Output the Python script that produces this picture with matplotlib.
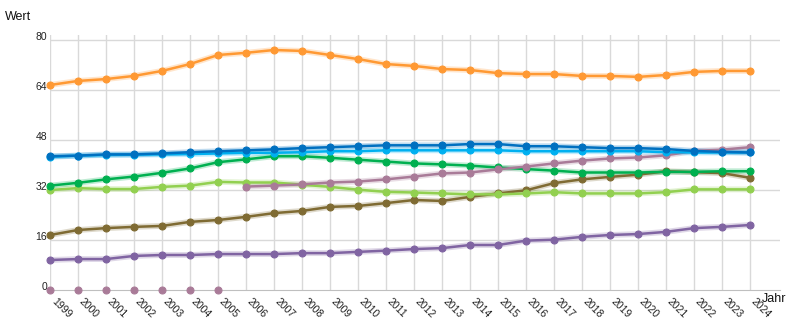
import matplotlib
matplotlib.use('Agg')
import matplotlib.pyplot as plt
from matplotlib.transforms import ScaledTranslation

plt.rcParams['font.family'] = ['Liberation Sans', 'DejaVu Sans']

years = list(range(1999, 2025))
orange = [65.6, 66.9, 67.5, 68.5, 70.1, 72.3, 75.2, 75.9, 76.8, 76.5, 75.2, 73.9, 72.3,
          71.7, 70.7, 70.4, 69.4, 69.1, 69.1, 68.5, 68.5, 68.2, 68.8, 69.8, 70.1, 70.1]
dark_blue = [42.8, 43.0, 43.4, 43.4, 43.7, 44.1, 44.4, 44.7, 45.0, 45.4, 45.7, 46.0, 46.3,
             46.3, 46.3, 46.7, 46.7, 46.0, 46.0, 45.7, 45.4, 45.4, 45.1, 44.5, 44.2, 44.0]
light_blue = [42.6, 43.0, 43.2, 43.3, 43.4, 43.5, 43.7, 43.9, 43.9, 44.1, 44.4, 44.4, 44.7,
              44.7, 44.7, 44.7, 44.7, 44.4, 44.4, 44.4, 44.4, 44.4, 44.1, 44.0, 44.0, 44.0]
green = [33.4, 34.3, 35.4, 36.3, 37.5, 38.9, 40.9, 41.8, 42.8, 42.8, 42.3, 41.7, 41.1,
         40.5, 40.2, 39.8, 39.2, 38.7, 38.2, 37.6, 37.6, 37.6, 37.8, 37.8, 38.0, 38.0]
light_green = [32.0, 32.6, 32.3, 32.3, 33.0, 33.4, 34.6, 34.4, 34.4, 33.7, 33.0, 32.1, 31.4,
               31.2, 30.9, 30.6, 30.6, 30.9, 31.3, 30.9, 30.9, 30.9, 31.3, 32.2, 32.2, 32.2]
mauve = [0, 0, 0, 0, 0, 0, 0, 33.1, 33.4, 33.8, 34.4, 34.7, 35.4,
         36.3, 37.3, 37.6, 38.6, 39.5, 40.5, 41.4, 42.1, 42.4, 43.1, 44.5, 44.9, 45.7]
olive = [17.6, 19.2, 19.8, 20.2, 20.5, 21.8, 22.4, 23.4, 24.6, 25.3, 26.6, 26.9, 27.8,
         28.8, 28.5, 29.8, 30.9, 31.9, 34.2, 35.4, 36.2, 36.9, 38.0, 37.7, 37.4, 35.9]
purple = [9.6, 9.9, 9.9, 10.9, 11.2, 11.2, 11.5, 11.5, 11.5, 11.8, 11.8, 12.2, 12.6,
          13.1, 13.4, 14.4, 14.4, 15.8, 16.1, 17.0, 17.6, 17.9, 18.6, 19.8, 20.2, 20.8]
y_ticks = [0, 16, 32, 48, 64, 80]

W, H = 795, 331
fig = plt.figure(figsize=(W / 100, H / 100), dpi=100)
ax = fig.add_axes([50 / W, 41 / H, 730 / W, 255 / H])
ax.set_xlim(1999, 2025.07)
ax.set_ylim(0, 81.6)

grid_c = '#d9d9d9'
for y in y_ticks[1:]:
    ax.axhline(y, color=grid_c, lw=1, zorder=0)
for x in years:
    ax.axvline(x, color=grid_c, lw=1, zorder=0)

MS = 5.0

def draw(vals, color, xs=None):
    xs = years if xs is None else xs
    ax.plot(xs, vals, color=color, lw=4.2, alpha=0.25, zorder=2, solid_capstyle='round')
    ax.plot(xs, vals, color=color, lw=1.8, marker='o', ms=MS, mec=color, mfc=color,
            mew=0.8, zorder=3, clip_on=False)

# mauve zeros (no line)
mz_x = [y for y, v in zip(years, mauve) if v == 0]
mz_v = [v for v in mauve if v == 0]
ax.plot(mz_x, mz_v, ls='none', marker='o', ms=MS, mew=0.8, color='#a97b98', zorder=3, clip_on=False)
m_x = [y for y, v in zip(years, mauve) if v > 0]
m_v = [v for v in mauve if v > 0]

draw(purple, '#8064a2')
draw(olive, '#7f6b33')
draw(light_green, '#92d050')
draw(green, '#00b050')
draw(m_v, '#a97b98', m_x)
draw(light_blue, '#00b0f0')
draw(dark_blue, '#0070c0')
draw(orange, '#ff9933')

for s in ['top', 'right', 'left']:
    ax.spines[s].set_visible(False)
ax.spines['bottom'].set_color('#bfbfbf')

ax.set_yticks(y_ticks)
ax.set_yticklabels([str(v) for v in y_ticks], fontsize=7.5, color='#222222')
ax.tick_params(axis='y', length=0, pad=2)
for lab in ax.get_yticklabels():
    lab.set_va('baseline')

ax.set_xticks(years)
ax.set_xticklabels([])
ax.tick_params(axis='x', length=0)
off = ScaledTranslation(3 / 100, -10 / 100, fig.dpi_scale_trans)
for yr in years:
    ax.text(yr, 0, str(yr), transform=ax.get_xaxis_transform() + off,
            rotation=-45, rotation_mode='anchor', ha='left', va='center',
            fontsize=7.5, color='#222222')

fig.text(5 / W, (H - 20) / H, 'Wert', fontsize=9, va='baseline', ha='left', color='#111111')
fig.text(762 / W, (H - 302) / H, 'Jahr', fontsize=9, va='baseline', ha='left', color='#111111')

fig.savefig('out.png', dpi=100)
